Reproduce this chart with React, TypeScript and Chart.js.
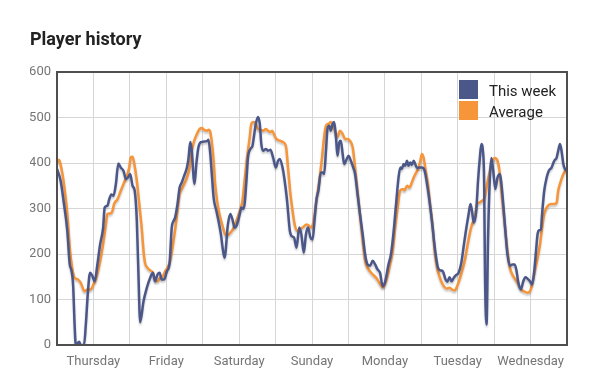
import React, { useEffect, useRef } from "react";
import { Chart, registerables } from "chart.js";

Chart.register(...registerables);

const chartTitle = "Player history";
const dayLabels = ["Thursday", "Friday", "Saturday", "Sunday", "Monday", "Tuesday", "Wednesday"];
const seriesNames = ["This week", "Average"];
const seriesColors = ["#4c5789", "#f6953a"];

// hours since the start of Thursday, and player counts
const weekHours = [
  0, 1.2, 2.3, 3.4, 4.2, 4.7, 5.3, 5.8, 6.2, 7.3, 7.8, 8.9, 9.5, 10.2, 10.9, 11.7, 12.4, 13.3, 14.2, 15.2,
  15.7, 16.6, 17.2, 17.9, 18.6, 19.4, 20.2, 21.0, 21.9, 22.7, 23.4, 24.1, 24.9, 25.6, 26.3, 26.8, 27.4, 28.5,
  29.6, 30.7, 31.6, 32.3, 33.1, 33.8, 34.5, 35.3, 36.2, 37.1, 37.8, 38.4, 38.9, 39.7, 40.4, 41.1, 41.9, 42.8,
  43.3, 43.9, 44.4, 45.0, 45.3, 45.9, 46.6, 47.4, 48.3, 49.4, 49.9, 50.5, 51.0, 51.6, 52.5, 53.2, 54.0, 54.7,
  55.2, 56.3, 57.1, 57.8, 58.5, 59.3, 60.2, 60.7, 61.3, 61.8, 62.4, 62.9, 63.7, 64.4, 64.9, 65.5, 66.2, 66.8,
  67.3, 67.9, 68.8, 69.5, 70.3, 71.2, 72.1, 72.8, 73.4, 74.3, 75.0, 75.8, 76.7, 77.2, 78.1, 78.9, 79.8, 80.5,
  81.3, 82.0, 82.7, 83.5, 84.2, 84.9, 85.5, 86.1, 86.9, 87.5, 88.0, 88.6, 89.1, 89.7, 90.2, 90.8, 91.3, 91.9,
  92.4, 93.0, 93.5, 94.1, 94.6, 95.2, 96.0, 96.8, 97.6, 98.2, 99.0, 99.8, 100.7, 101.5, 102.3, 103.1, 104.0,
  104.8, 105.6, 106.4, 107.3, 107.8, 108.4, 109.2, 110.0, 110.8, 111.7, 112.5, 113.1, 113.6, 114.2, 114.7,
  115.3, 115.8, 116.4, 116.9, 117.5, 118.0, 118.6, 119.4, 120.2, 121.1, 121.9, 122.7, 123.5, 124.2, 124.9,
  125.5, 126.3, 127.1, 128.0, 128.6, 129.3, 130.0, 130.7, 131.5, 132.3, 133.2, 133.9, 134.7, 135.6, 136.2,
  136.7, 137.3, 138.1, 138.7, 139.3, 139.8, 140.3, 140.7, 141.0, 141.5, 142.0, 142.6, 143.1, 143.7, 144.4,
  145.1, 145.9, 146.4, 147.0, 147.7, 148.4, 149.2, 150.0, 150.8, 151.4, 151.9, 152.8, 153.6, 154.3, 155.0,
  155.8, 156.5, 157.2, 157.8, 158.3, 158.7, 159.4, 159.8, 160.5, 161.3, 162.0, 162.9, 163.8, 164.6, 165.1,
  165.7, 166.2, 166.8, 167.3, 168,
];
const weekPlayers = [
  387, 361, 310, 251, 177, 166, 133, 45, 0, 7, 0, 0, 45, 118, 159, 151, 140, 177, 221, 258,
  302, 306, 320, 331, 328, 354, 399, 390, 383, 365, 368, 376, 350, 339, 273, 163, 50, 96,
  126, 148, 159, 140, 155, 159, 144, 144, 162, 181, 258, 273, 280, 310, 346, 357, 372, 390,
  409, 446, 427, 368, 354, 398, 435, 446, 447, 448, 451, 420, 376, 324, 295, 273, 243, 207,
  192, 265, 288, 276, 258, 265, 288, 302, 299, 310, 361, 412, 431, 438, 460, 486, 501, 486,
  442, 427, 431, 427, 429, 412, 390, 405, 409, 390, 361, 317, 251, 240, 236, 214, 258, 243,
  203, 243, 258, 236, 232, 280, 321, 339, 379, 379, 376, 427, 475, 482, 471, 486, 490, 457,
  416, 446, 449, 420, 398, 405, 416, 405, 390, 376, 332, 288, 243, 199, 177, 174, 185,
  177, 166, 159, 129, 133, 148, 177, 199, 243, 310, 368, 390, 387, 398, 394,
  405, 394, 401, 396, 405, 398, 389, 390, 390, 383, 354, 317, 273, 229, 192,
  170, 164, 162, 144, 139, 149, 140, 148, 154, 159, 181, 214, 251, 288, 310,
  295, 269, 295, 361, 412, 442, 427, 361, 150, 45, 236, 368, 411, 383, 343,
  368, 376, 354, 310, 251, 199, 174, 177, 177, 162, 140, 122, 140, 149, 146,
  140, 133, 162, 207, 243, 252, 254, 288, 339, 368, 383, 390, 405, 412, 427,
  442, 427, 398, 387, 383,
];

const avgHours = [
  0, 0.7, 1.4, 2.3, 3.4, 4.3, 5.1, 5.8, 6.9, 7.8, 8.7, 9.1, 10.0, 11.1, 12.0, 12.8, 13.9, 15.0, 16.1, 16.6,
  17.5, 18.3, 18.8, 19.9, 21.0, 22.1, 23.0, 23.8, 24.3, 24.9, 25.4, 26.3, 27.1, 27.9, 28.5, 29.0, 29.8, 30.7,
  31.6, 32.3, 33.1, 34.0, 34.9, 35.6, 36.4, 37.3, 38.2, 39.0, 39.7, 40.4, 41.1, 41.9, 42.8, 43.7, 44.4, 45.2,
  46.1, 47.0, 47.7, 48.5, 49.4, 49.9, 50.5, 51.0, 51.6, 52.1, 52.9, 53.8, 54.7, 55.4, 56.2, 56.9, 57.9, 59.1,
  60.2, 61.1, 61.8, 62.6, 63.5, 64.0, 64.6, 65.5, 66.2, 67.0, 67.9, 68.8, 69.5, 70.3, 70.9, 71.7, 72.3, 73.4,
  74.5, 75.4, 76.1, 76.9, 77.6, 78.3, 79.1, 80.0, 80.9, 82.2, 83.0, 83.8, 84.6, 85.3, 86.4, 87.2, 88.0, 88.6,
  89.4, 90.2, 91.0, 91.9, 92.4, 93.2, 94.1, 94.9, 95.7, 96.5, 97.4, 98.2, 99.0, 99.8, 100.7, 101.5, 102.3,
  103.1, 104.0, 105.1, 106.2, 107.3, 108.2, 109.0, 109.7, 110.6, 111.4, 112.2, 113.0, 113.9, 114.5, 115.3,
  116.1, 116.7, 117.5, 118.3, 119.1, 119.7, 120.2, 120.8, 121.3, 122.2, 122.9, 123.8, 124.4, 125.2, 126.0,
  126.8, 127.7, 128.5, 129.3, 130.1, 131.0, 131.8, 132.6, 133.4, 134.3, 135.1, 135.9, 136.7, 137.6, 138.4,
  139.1, 140.0, 140.9, 141.7, 142.6, 143.3, 144.2, 145.1, 145.9, 146.6, 147.5, 148.4, 149.2, 150.0, 150.8,
  151.7, 152.5, 153.3, 154.1, 155.0, 155.8, 156.5, 157.4, 158.3, 159.1, 159.8, 160.5, 161.3, 162.0, 162.9,
  163.8, 164.6, 165.1, 166.0, 166.8, 168,
];
const avgPlayers = [
  401, 407, 390, 354, 288, 207, 166, 148, 144, 137, 122, 118, 122, 122, 133, 144, 174, 214, 265, 288,
  289, 295, 310, 320, 339, 357, 372, 390, 412, 414, 401, 361, 310, 258, 207, 181, 170, 164,
  159, 144, 140, 148, 151, 162, 170, 185, 221, 258, 295, 332, 343, 354, 368, 390, 427, 449,
  464, 475, 477, 473, 471, 473, 468, 446, 405, 354, 310, 280, 258, 243, 241, 245, 254, 273,
  295, 317, 361, 412, 457, 486, 490, 486, 475, 473, 471, 475, 471, 468, 471, 460, 453, 449,
  446, 438, 390, 332, 295, 265, 251, 254, 258, 265, 262, 258, 275, 310, 361, 405, 457, 482,
  486, 490, 482, 464, 457, 471, 464, 453, 453, 449, 435, 390, 339, 288, 229, 185, 170,
  162, 155, 148, 137, 127, 137, 155, 177, 207, 258, 302, 339, 343, 340, 350,
  346, 354, 368, 379, 390, 405, 420, 411, 390, 354, 310, 258, 207, 170, 151,
  137, 127, 124, 126, 122, 120, 129, 144, 162, 185, 214, 243, 265, 280, 310,
  313, 317, 324, 354, 383, 401, 411, 405, 376, 324, 265, 207, 170, 155, 146,
  137, 126, 120, 117, 115, 118, 133, 162, 192, 221, 258, 288, 302, 308, 310,
  310, 313, 339, 361, 376, 387,
];

const yMax = 600;
const yStep = 100;
const hoursInWeek = 168;

const FONT = "Roboto, 'Noto Sans', sans-serif";

export default function App() {
  const canvasRef = useRef<HTMLCanvasElement | null>(null);

  useEffect(() => {
    document.body.style.margin = "0";
    const canvas = canvasRef.current;
    if (!canvas) return;

    const shadowPlugin = {
      id: "lineShadow",
      beforeDatasetDraw(chart: any) {
        const ctx = chart.ctx;
        ctx.save();
        ctx.shadowColor = "rgba(0,0,0,0.22)";
        ctx.shadowBlur = 2;
        ctx.shadowOffsetX = 0;
        ctx.shadowOffsetY = 2;
      },
      afterDatasetDraw(chart: any) {
        chart.ctx.restore();
      },
    };

    const framePlugin = {
      id: "frameTitleLegend",
      afterDraw(chart: any) {
        const ctx = chart.ctx;
        const a = chart.chartArea;
        ctx.save();
        ctx.strokeStyle = "#4f4f4f";
        ctx.lineWidth = 2;
        ctx.strokeRect(a.left, a.top, a.right - a.left, a.bottom - a.top);

        ctx.fillStyle = "#222222";
        ctx.font = `bold 18px ${FONT}`;
        ctx.textBaseline = "alphabetic";
        ctx.textAlign = "left";
        ctx.fillText(chartTitle, 30, 45);

        ctx.font = `15px ${FONT}`;
        chart.data.datasets.forEach((ds: any, i: number) => {
          const top = a.top + 8 + i * 21;
          ctx.fillStyle = ds.borderColor;
          ctx.fillRect(a.right - 108, top, 19, 19);
          ctx.fillStyle = "#222222";
          ctx.fillText(ds.label, a.right - 78, top + 16);
        });
        ctx.restore();
      },
    };

    const chart = new Chart(canvas, {
      type: "line",
      data: {
        datasets: [
          {
            label: seriesNames[0],
            data: weekHours.map((h, i) => ({ x: h, y: weekPlayers[i] })),
            borderColor: seriesColors[0],
            backgroundColor: seriesColors[0],
            borderWidth: 2.5,
            pointRadius: 0,
            cubicInterpolationMode: "monotone",
            fill: false,
          },
          {
            label: seriesNames[1],
            data: avgHours.map((h, i) => ({ x: h, y: avgPlayers[i] })),
            borderColor: seriesColors[1],
            backgroundColor: seriesColors[1],
            borderWidth: 2.5,
            pointRadius: 0,
            cubicInterpolationMode: "monotone",
            fill: false,
          },
        ],
      },
      options: {
        responsive: false,
        animation: false,
        layout: { padding: { left: 30, right: 27, top: 72, bottom: 0 } },
        plugins: {
          legend: { display: false },
          title: { display: false },
          tooltip: { enabled: false },
        },
        scales: {
          x: {
            type: "linear",
            min: 0,
            max: hoursInWeek,
            afterFit: (scale: any) => {
              scale.height = 47;
            },
            grid: { color: "#d6d6d6", drawTicks: false, lineWidth: 1 },
            border: { display: false },
            ticks: {
              stepSize: 12,
              autoSkip: false,
              maxRotation: 0,
              padding: 9,
              color: "#757575",
              font: { family: FONT, size: 13 },
              callback: (value: any) => {
                const v = Number(value);
                return v % 24 === 12 ? dayLabels[(v - 12) / 24] : "";
              },
            },
          },
          y: {
            min: 0,
            max: yMax,
            afterFit: (scale: any) => {
              scale.width = 27;
            },
            grid: { color: "#d6d6d6", drawTicks: false, lineWidth: 1 },
            border: { display: false },
            ticks: {
              stepSize: yStep,
              padding: 6,
              color: "#757575",
              font: { family: FONT, size: 13 },
            },
          },
        },
      },
      plugins: [shadowPlugin, framePlugin],
    });

    return () => chart.destroy();
  }, []);

  return (
    <div style={{ width: 594, height: 392, position: "relative", background: "#ffffff" }}>
      <canvas ref={canvasRef} width={594} height={392} />
    </div>
  );
}
